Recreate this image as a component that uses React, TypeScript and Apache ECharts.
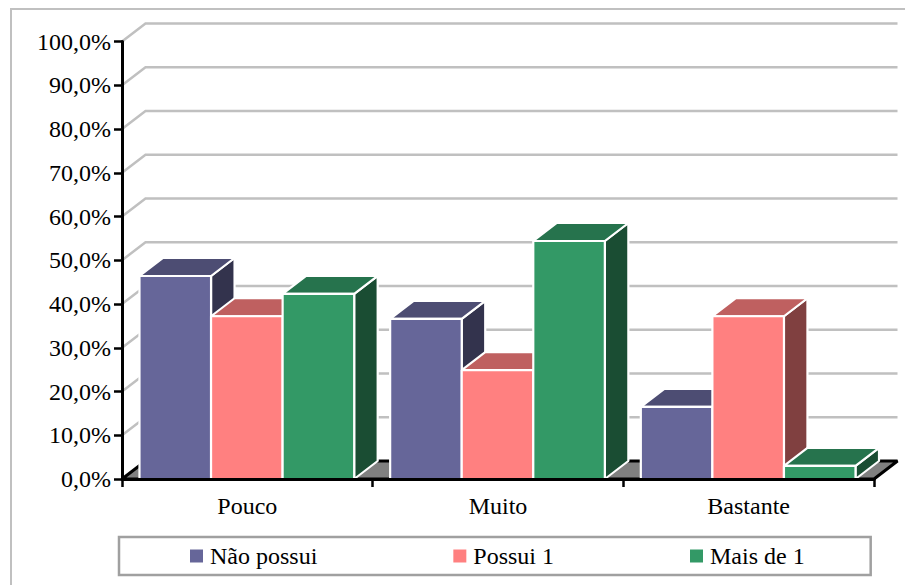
import React, { useEffect, useRef } from "react";
import * as echarts from "echarts";

const categories = ["Pouco", "Muito", "Bastante"];
const seriesNames = ["Não possui", "Possui 1", "Mais de 1"];
const naoPossui = [46.4, 36.6, 16.5];
const possuiUm = [37.2, 24.9, 37.2];
const maisDeUm = [42.3, 54.4, 3.0];
const axisTicks = [0, 10, 20, 30, 40, 50, 60, 70, 80, 90, 100];

const FRONT = ["#666699", "#FF8080", "#339966"];
const TOP = ["#4D4D73", "#BF6060", "#26734D"];
const SIDE = ["#33334D", "#804040", "#1A4D33"];

// Oblique projection used for the box depth.
const DEPTH_X = 23.5;
const DEPTH_Y = -18;
const FONT = '"Liberation Serif", "Times New Roman", serif';

function wallRenderItem(params: any, api: any) {
  const [, y] = api.coord([0, api.value(0)]);
  const x = params.coordSys.x;
  const right = x + params.coordSys.width;
  return {
    type: "polyline",
    shape: {
      points: [
        [x, y],
        [x + DEPTH_X, y + DEPTH_Y],
        [right + DEPTH_X, y + DEPTH_Y],
      ],
    },
    style: { fill: "none", stroke: "#C0C0C0", lineWidth: 2.5 },
  };
}

function floorRenderItem(params: any, api: any) {
  const [, y] = api.coord([0, api.value(0)]);
  const x = params.coordSys.x;
  const right = x + params.coordSys.width;
  return {
    type: "polygon",
    shape: {
      points: [
        [x, y],
        [x + DEPTH_X, y + DEPTH_Y],
        [right + DEPTH_X, y + DEPTH_Y],
        [right, y],
      ],
    },
    style: { fill: "#808080", stroke: "#000000", lineWidth: 3, lineJoin: "bevel" },
  };
}

function barRenderItem(seriesIndex: number) {
  return (_params: any, api: any) => {
    const [cx, top] = api.coord([api.value(0), api.value(1)]);
    const [, base] = api.coord([api.value(0), 0]);
    const barWidth = api.size([1, 0])[0] * 0.2855;
    const x0 = cx - 0.5 + (seriesIndex - 1.5) * barWidth;
    const x1 = x0 + barWidth;
    const edge = { stroke: "#FFFFFF", lineWidth: 2.2, lineJoin: "bevel" };
    return {
      type: "group",
      children: [
        {
          type: "polygon",
          shape: {
            points: [
              [x1, top],
              [x1 + DEPTH_X, top + DEPTH_Y],
              [x1 + DEPTH_X, base + DEPTH_Y],
              [x1, base],
            ],
          },
          style: { fill: SIDE[seriesIndex], ...edge },
        },
        {
          type: "polygon",
          shape: {
            points: [
              [x0, top],
              [x0 + DEPTH_X, top + DEPTH_Y],
              [x1 + DEPTH_X, top + DEPTH_Y],
              [x1, top],
            ],
          },
          style: { fill: TOP[seriesIndex], ...edge },
        },
        {
          type: "rect",
          shape: { x: x0, y: top, width: barWidth, height: base - top },
          style: { fill: FRONT[seriesIndex], ...edge },
        },
      ],
    };
  };
}

export default function App() {
  const ref = useRef<HTMLDivElement>(null);

  useEffect(() => {
    const chart = echarts.init(ref.current!, null, { renderer: "svg" });
    const values = [naoPossui, possuiUm, maisDeUm];
    chart.setOption({
      animation: false,
      backgroundColor: "#FFFFFF",
      textStyle: { fontFamily: FONT },
      grid: { left: 122, right: 31, top: 41.5, bottom: 106, containLabel: false },
      xAxis: {
        type: "category",
        data: categories,
        z: 5,
        axisLine: { lineStyle: { color: "#000000", width: 3 } },
        axisTick: { show: true, alignWithLabel: false, length: 8, lineStyle: { color: "#000000", width: 2.5 } },
        axisLabel: { color: "#000000", fontSize: 24, fontFamily: FONT, margin: 15 },
        splitLine: { show: false },
      },
      yAxis: {
        type: "value",
        min: 0,
        max: 100,
        interval: 10,
        z: 5,
        axisLine: { show: true, lineStyle: { color: "#000000", width: 3 } },
        axisTick: { show: true, length: 8, lineStyle: { color: "#000000", width: 2.5 } },
        axisLabel: {
          color: "#000000",
          fontSize: 24,
          fontFamily: FONT,
          margin: 11,
          formatter: (v: number) => `${v},0%`,
        },
        splitLine: { show: false },
      },
      legend: {
        data: seriesNames,
        left: 119,
        top: 537,
        icon: "rect",
        itemWidth: 13,
        itemHeight: 13,
        itemGap: 136,
        padding: [7, 66, 7, 71],
        borderColor: "#A0A0A0",
        borderWidth: 2.5,
        backgroundColor: "#FFFFFF",
        textStyle: { color: "#000000", fontSize: 24, fontFamily: FONT, padding: [0, 0, 0, 2] },
      },
      graphic: [
        {
          type: "polyline",
          silent: true,
          shape: { points: [[11, 585], [11, 9], [905, 9]] },
          style: { fill: "none", stroke: "#C0C0C0", lineWidth: 2 },
        },
      ],
      series: [
        {
          type: "custom",
          name: "floor",
          silent: true,
          z: 1,
          clip: false,
          renderItem: floorRenderItem,
          encode: { y: 0 },
          data: [[0]],
        },
        {
          type: "custom",
          name: "wall",
          silent: true,
          z: 1,
          clip: false,
          renderItem: wallRenderItem,
          encode: { y: 0 },
          data: axisTicks.slice(1).map((t) => [t]),
        },
        ...seriesNames.map((name, s) => ({
          type: "custom",
          name,
          z: 2 + s,
          clip: false,
          itemStyle: { color: FRONT[s] },
          renderItem: barRenderItem(s),
          encode: { x: 0, y: 1 },
          data: values[s].map((v, i) => [i, v]),
        })),
      ],
    });
    return () => chart.dispose();
  }, []);

  return (
    <div
      ref={ref}
      style={{ position: "absolute", left: 0, top: 0, width: 905, height: 585 }}
    />
  );
}
